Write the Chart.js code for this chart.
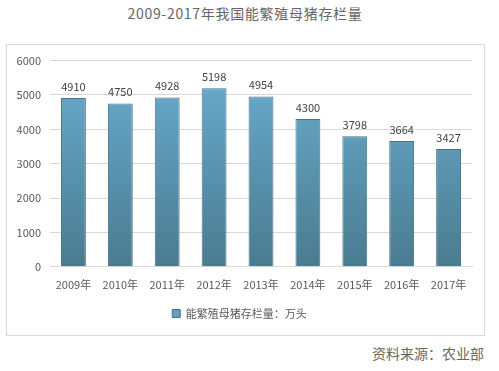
<!DOCTYPE html>
<html><head><meta charset="utf-8">
<script src="https://cdn.jsdelivr.net/npm/chart.js@4"></script>
<style>
body{margin:0;width:499px;height:371px;background:#fff;position:relative;overflow:hidden;font-family:"Noto Sans CJK SC","Noto Sans",sans-serif;}
#title{position:absolute;left:0;top:3px;width:490px;text-align:center;font-size:14px;color:#666;letter-spacing:0.7px;}
#box{position:absolute;left:6px;top:44px;width:477px;height:290px;border:1px solid #d9d9d9;}
#src{position:absolute;right:15px;top:343px;font-size:14px;color:#666;}
</style></head><body>
<div id="title">2009-2017年我国能繁殖母猪存栏量</div>
<div id="box"><canvas id="c" width="477" height="290"></canvas></div>
<div id="src">资料来源：农业部</div>
<script>
const categories=["2009年","2010年","2011年","2012年","2013年","2014年","2015年","2016年","2017年"];
const values=[4910,4750,4928,5198,4954,4300,3798,3664,3427];
const yTicks=[0,1000,2000,3000,4000,5000,6000];
const seriesName="能繁殖母猪存栏量：万头";

const labelPlugin={id:'lbl',afterDatasetsDraw(chart){const ctx=chart.ctx;const meta=chart.getDatasetMeta(0);ctx.save();ctx.font='11px "Noto Sans CJK SC", sans-serif';ctx.fillStyle='#404040';ctx.textAlign='center';ctx.textBaseline='bottom';meta.data.forEach((b,i)=>{ctx.fillText(String(values[i]),b.x,b.y-6);});ctx.restore();}};
const FONT='"Noto Sans CJK SC", sans-serif';
new Chart(document.getElementById('c'),{type:'bar',
data:{labels:categories,datasets:[{label:seriesName,data:values,
backgroundColor:(ctx)=>{const ca=ctx.chart.chartArea;if(!ca)return '#5b9bb8';const g=ctx.chart.ctx.createLinearGradient(0,ca.top,0,ca.bottom);g.addColorStop(0,'#6aafd0');g.addColorStop(1,'#4a7b90');return g;},
borderColor:'#4a7184',borderWidth:1,barPercentage:0.53,categoryPercentage:1}]},
options:{responsive:false,animation:false,
layout:{padding:{left:0,right:12,top:8,bottom:6}},
plugins:{legend:{position:'bottom',labels:{boxWidth:8,boxHeight:8,color:'#595959',font:{size:11,family:FONT},padding:14,
generateLabels:(chart)=>[{text:seriesName,fillStyle:'#5fa0bd',strokeStyle:'#4a7184',lineWidth:1,datasetIndex:0,fontColor:'#595959'}]}},tooltip:{enabled:false}},
scales:{x:{grid:{display:false},border:{color:'#d9d9d9'},ticks:{color:'#595959',font:{size:11,family:FONT},maxRotation:0,autoSkip:false}},
y:{min:0,max:6000,afterBuildTicks:(s)=>{s.ticks=yTicks.map(v=>({value:v}));},afterFit:(s)=>{s.width=43;},grid:{color:'#d9d9d9',drawTicks:false},border:{display:false},ticks:{color:'#595959',font:{size:11,family:FONT},padding:9,callback:(v)=>String(v)}}}},
plugins:[labelPlugin]});
</script></body></html>
